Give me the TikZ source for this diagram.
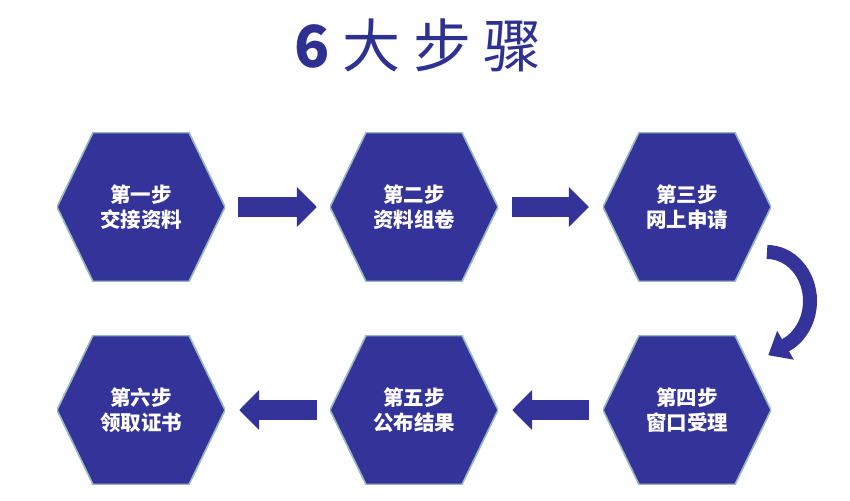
\documentclass[tikz,border=0pt]{standalone}
\usepackage{fontspec}
\usetikzlibrary{arrows.meta}
\newfontfamily\cjk{Noto Sans CJK SC}
\newfontfamily\cjktitle{Noto Sans CJK SC}[LetterSpace=22]
\definecolor{hexblue}{RGB}{51,51,153}
\definecolor{titleblue}{RGB}{46,49,146}
\definecolor{edgegray}{RGB}{150,185,190}
\begin{document}
\begin{tikzpicture}[x=1pt,y=-1pt,
  hexnode/.style={minimum width=168pt,minimum height=149pt,inner sep=0pt,
    text=white,align=center,font=\cjk\bfseries\fontsize{20.5}{25}\selectfont,
    path picture={\fill[hexblue,draw=edgegray,line width=1.6pt]
      (path picture bounding box.west)
      -- ([xshift=36pt]path picture bounding box.north west)
      -- ([xshift=-36pt]path picture bounding box.north east)
      -- (path picture bounding box.east)
      -- ([xshift=-36pt]path picture bounding box.south east)
      -- ([xshift=36pt]path picture bounding box.south west)
      -- cycle;}},
  blockarrow/.style={hexblue,line width=20pt,-{Triangle[width=39pt,length=20pt]}},
  curvearrow/.style={hexblue,line width=14pt,-{Triangle[width=32pt,length=20pt]}},
  titletext/.style={text=titleblue,font=\cjktitle\fontsize{58}{58}\selectfont}]
\useasboundingbox (0,0) rectangle (850,500);
\node[titletext] (title) at (418,45) {{\bfseries 6}\hspace{13pt}大步骤};
\node[hexnode] (h1) at (141,207) {第一步\\交接资料};
\node[hexnode] (h2) at (414,207) {第二步\\资料组卷};
\node[hexnode] (h3) at (687,207) {第三步\\网上申请};
\node[hexnode] (h4) at (687,410) {第四步\\窗口受理};
\node[hexnode] (h5) at (414,410) {第五步\\公布结果};
\node[hexnode] (h6) at (141,410) {第六步\\领取证书};
\draw[blockarrow] ([xshift=13pt]h1.east) -- ([xshift=-13pt]h2.west);
\draw[blockarrow] ([xshift=14pt]h2.east) -- ([xshift=-14pt]h3.west);
\draw[blockarrow] ([xshift=-14pt]h4.west) -- ([xshift=14pt]h5.east);
\draw[blockarrow] ([xshift=-13pt]h5.west) -- ([xshift=14pt]h6.east);
\coordinate (c1) at ([shift={(80pt,-45pt)}]h3.center);
\draw[curvearrow] (c1) arc[start angle=90,end angle=-62,x radius=43pt,y radius=49pt] -- ++(-19,11);
\end{tikzpicture}
\end{document}
